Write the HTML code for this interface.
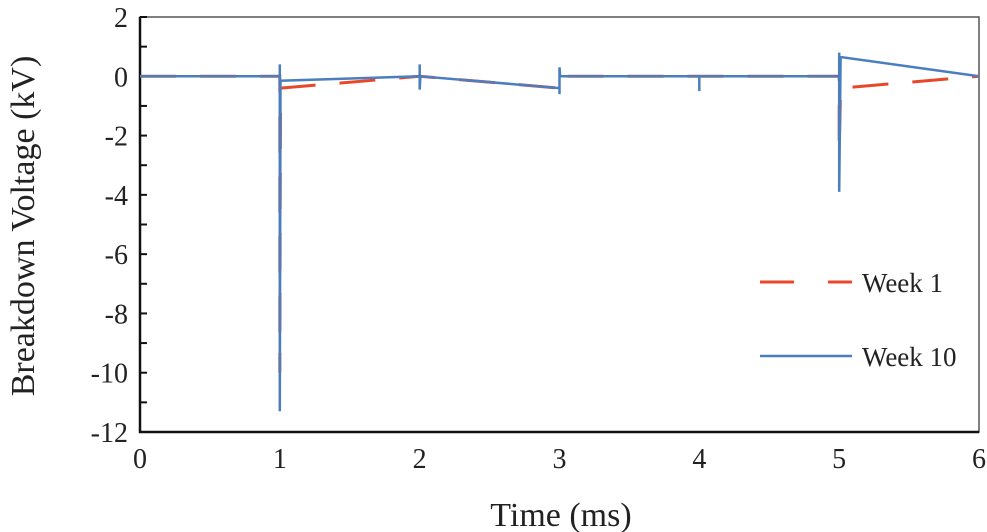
<!DOCTYPE html>
<html><head><meta charset="utf-8"><style>
body{margin:0;background:#fff}
svg{display:block;font-family:"Liberation Serif",serif}
</style></head><body>
<svg id="chart" width="987" height="532" viewBox="0 0 987 532">
<g id="frame"></g><g id="series"></g><g id="labels"></g>
</svg>
<script>
const xTicks=[0,1,2,3,4,5,6];
const yTicks=[2,0,-2,-4,-6,-8,-10,-12];
const w1Times=[0,1,1,1.005,2,3,3.005,5,5,5.01,6];
const w1Values=[0,0,-10,-0.4,0,-0.4,0,0,-2.5,-0.4,0];
const w10Times=[0,1,1,1,1.005,2,2,2,2.005,3,3,3,3.005,4,4,4,5,5,5,5.01,6];
const w10Values=[0,0,0.4,-11.3,-0.15,0,0.4,-0.45,0,-0.4,-0.6,0.3,0,0,-0.5,0,0,0.8,-3.9,0.65,0];
const NS="http://www.w3.org/2000/svg";
const X0=140,X1=979,Y0=17,Y1=432;
const sx=v=>X0+(v-0)/6*(X1-X0);
const sy=v=>Y0+(2-v)/14*(Y1-Y0);
function mk(t,a,p){const e=document.createElementNS(NS,t);for(const k in a)e.setAttribute(k,a[k]);p.appendChild(e);return e;}
const fr=document.getElementById('frame'),se=document.getElementById('series'),lb=document.getElementById('labels');
let r=mk('rect',{x:X0,y:Y0,width:X1-X0,height:Y1-Y0,fill:'none',stroke:'#555','stroke-width':1.5},fr);


let ax=mk('path',{d:`M${X0},${Y0}V${Y1}H${X1}`,fill:'none',stroke:'#111','stroke-width':2.5},fr);


for(let v=2;v>=-12;v--){const y=sy(v);let t=mk('line',{x1:X0,x2:X0+7,y1:y,y2:y,stroke:'#111','stroke-width':2},fr);

}
yTicks.forEach(v=>{let t=mk('text',{x:X0-12,y:sy(v)+10,'text-anchor':'end','font-size':28,fill:'#222'},lb);t.textContent=v;

});
xTicks.forEach(v=>{let t=mk('text',{x:sx(v),y:Y1+36,'text-anchor':'middle','font-size':28,fill:'#222'},lb);t.textContent=v;

});
let xt=mk('text',{x:561,y:526,'text-anchor':'middle','font-size':34,fill:'#222'},lb);xt.textContent='Time (ms)';


let yt=mk('text',{x:0,y:0,transform:'translate(34,226) rotate(-90)','text-anchor':'middle','font-size':34,fill:'#222'},lb);yt.textContent='Breakdown Voltage (kV)';


function pts(ts,vs){return ts.map((t,i)=>sx(t).toFixed(1)+','+sy(vs[i]).toFixed(1)).join(' ');}
let l1=mk('polyline',{points:pts(w1Times,w1Values),fill:'none',stroke:'#e8472a','stroke-width':3,'stroke-dasharray':'36,24'},se);


let l2=mk('polyline',{points:pts(w10Times,w10Values),fill:'none',stroke:'#4a7ebf','stroke-width':2.5},se);


let g1=mk('line',{x1:760,x2:852,y1:282,y2:282,stroke:'#e8472a','stroke-width':3,'stroke-dasharray':'34,34'},lb);


let t1=mk('text',{x:862,y:292,'font-size':27,fill:'#222'},lb);t1.textContent='Week 1';


let g2=mk('line',{x1:760,x2:852,y1:356,y2:356,stroke:'#4a7ebf','stroke-width':2.5},lb);


let t2=mk('text',{x:862,y:366,'font-size':27,fill:'#222'},lb);t2.textContent='Week 10';


</script>
</body></html>
